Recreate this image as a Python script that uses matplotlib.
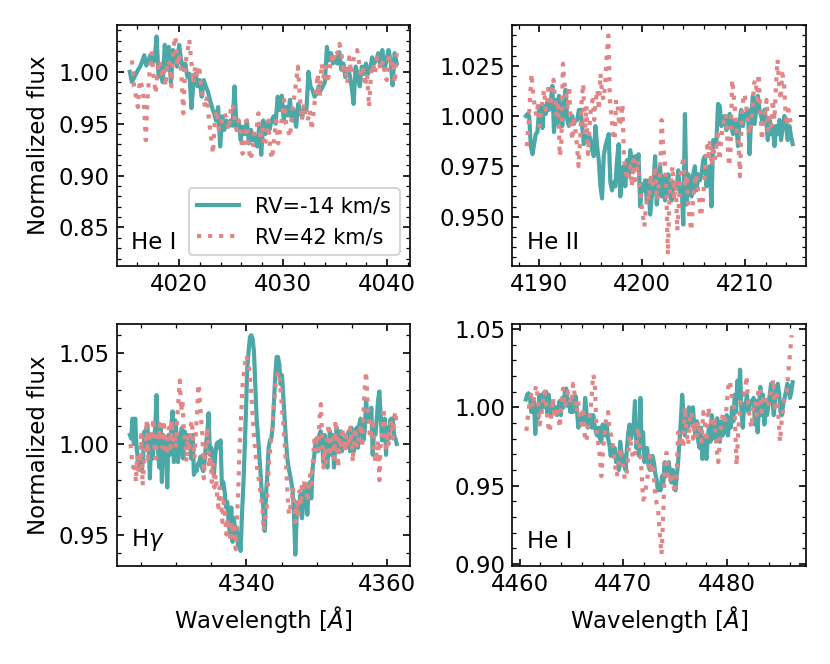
import numpy as np
import matplotlib
matplotlib.use("Agg")
import matplotlib.pyplot as plt
from matplotlib.ticker import MultipleLocator

# ---------------- data ----------------
# He I 4026
hei1_rv1_range = (4015.3, 4040.9)
hei1_rv1 = [1.000,0.990,0.994,0.998,1.002,1.005,1.010,1.016,1.006,1.011,1.016,1.008,1.011,1.034,0.995,1.005,0.990,1.026,1.002,1.024,0.989,1.021,1.014,1.005,1.026,1.011,1.002,1.008,0.995,0.998,0.965,0.990,0.998,0.986,0.992,0.976,0.992,0.986,0.981,0.973,0.966,0.960,0.953,0.966,0.928,0.957,0.944,0.953,0.947,0.953,0.948,0.986,0.944,0.953,0.934,0.947,0.940,0.953,0.931,0.944,0.934,0.937,0.928,0.947,0.920,0.953,0.940,0.950,0.944,0.953,0.957,0.950,0.976,0.963,0.977,0.953,0.966,0.958,0.973,0.953,0.963,0.947,0.969,0.960,0.957,0.966,0.963,1.000,0.986,0.982,0.976,0.979,0.986,0.982,0.986,0.990,1.024,1.011,1.018,1.008,1.014,1.008,1.019,1.002,1.008,0.995,1.003,0.998,0.986,0.969,1.005,0.998,0.986,1.005,0.998,1.008,0.998,1.002,1.014,1.008,1.011,1.018,1.008,1.021,1.002,1.011,1.021,1.011,0.987,1.018,1.008]
hei1_rv2_range = (4015.5, 4040.9)
hei1_rv2 = [1.011,0.986,0.976,0.966,0.992,0.986,0.973,0.934,0.979,1.002,1.018,0.995,0.979,1.002,1.011,0.998,1.005,0.986,1.011,1.008,0.986,1.024,1.034,1.005,1.018,0.998,0.960,1.008,1.018,1.031,1.011,0.989,1.005,0.994,1.006,0.986,0.976,0.966,0.976,0.953,0.937,0.921,0.953,0.963,0.944,0.947,0.957,0.960,0.953,0.944,0.963,0.969,0.953,0.944,0.953,0.944,0.921,0.934,0.953,0.928,0.915,0.924,0.944,0.944,0.960,0.934,0.947,0.928,0.937,0.953,0.924,0.916,0.937,0.953,0.931,0.944,0.957,0.973,0.950,0.944,0.937,0.960,0.974,0.989,1.005,0.976,0.953,0.969,0.957,0.953,0.963,0.944,0.963,0.979,0.998,0.976,1.008,0.995,1.005,0.989,1.002,1.014,1.008,1.021,1.018,1.027,1.018,0.998,1.005,0.989,1.014,0.998,1.011,1.018,1.021,1.008,0.995,1.002,0.986,0.998,0.966,0.998,1.008,0.998,1.014,1.008,1.002,1.011,0.995,0.992,1.018,1.005,1.011,0.989,1.018]

# He II 4200
heii_rv1_range = (4188.7, 4214.6)
heii_rv1 = [1.000,1.001,1.000,0.985,0.981,0.986,0.991,0.992,1.003,1.005,0.994,1.005,1.001,1.007,1.003,1.006,1.015,0.992,1.008,0.996,1.010,1.001,0.995,1.007,1.013,0.998,0.995,0.998,1.000,0.996,0.998,0.998,1.003,1.003,0.995,0.986,0.990,0.988,0.991,0.988,0.983,0.980,0.995,0.985,0.978,0.965,0.959,0.980,0.985,0.988,0.991,0.967,0.963,0.967,0.965,0.978,0.986,0.960,0.970,0.975,0.965,0.978,0.970,0.983,0.978,0.973,0.980,0.975,0.981,0.955,0.966,0.963,0.968,0.958,0.968,0.951,0.960,0.966,0.980,0.956,0.965,0.975,0.960,0.970,0.958,0.965,0.971,0.961,0.958,0.967,0.966,0.965,0.973,0.961,0.965,0.946,1.001,0.956,0.971,0.968,0.960,0.971,0.975,0.963,0.971,0.968,0.971,0.978,0.980,0.965,0.971,0.975,0.955,0.988,0.986,0.988,1.006,1.005,0.995,0.998,1.000,0.993,0.998,1.001,0.995,0.991,0.998,0.995,0.985,0.998,1.003,0.995,1.001,1.000,1.003,0.981,1.000,1.010,0.996,1.003,1.010,1.003,1.000,0.996,1.003,0.998,0.988,0.998,0.991,0.995,0.985,0.995,0.991,0.998,0.988,0.995,1.000,0.995,0.988,0.995,0.990,0.986]
heii_rv2_range = (4188.8, 4214.5)
heii_rv2 = [0.985,0.995,1.008,1.021,1.011,1.005,1.000,1.005,0.995,1.001,1.008,1.013,1.003,1.008,1.016,1.005,1.013,1.018,1.008,1.000,1.005,0.980,0.986,1.026,1.016,1.013,1.003,1.015,0.995,0.988,1.000,0.993,0.985,0.975,0.988,1.008,1.016,0.991,1.005,0.981,0.995,1.005,1.008,0.998,1.008,1.013,1.003,1.021,1.011,1.008,1.016,1.031,1.040,1.008,1.000,0.991,0.988,1.008,1.005,0.995,0.998,1.006,0.978,0.975,0.968,0.971,0.975,0.965,0.978,0.968,0.971,0.978,0.966,0.958,0.951,0.945,0.955,0.961,0.958,0.971,0.965,0.968,0.975,0.958,0.965,0.971,0.998,0.985,0.978,0.965,0.931,0.960,0.968,0.975,0.958,0.968,0.943,0.955,0.971,0.975,0.980,0.965,0.971,0.956,0.948,0.943,0.958,0.965,0.971,0.965,0.958,0.950,0.955,0.965,0.975,0.985,0.980,0.988,0.975,0.985,0.978,0.985,0.991,0.978,0.988,0.995,0.998,1.001,0.988,0.975,0.983,1.018,1.011,1.001,0.991,0.988,0.970,0.995,1.008,1.011,1.005,0.998,0.991,0.995,1.003,1.016,1.018,1.008,1.021,1.003,0.988,0.995,1.001,1.008,0.993,1.000,0.995,1.008,0.998,1.015,1.028,1.016,1.008,1.021,1.018,1.003,0.995,1.003,0.998,0.996]

# H gamma
hg_rv1_range = (4323.4, 4361.4)
hg_rv1 = [1.005,1.003,1.014,1.000,1.014,0.998,0.992,0.987,0.990,0.985,0.994,1.007,1.000,1.011,1.002,0.981,1.005,0.992,1.003,1.009,1.027,0.998,0.987,1.009,0.979,1.005,0.994,1.002,0.976,1.005,0.994,1.009,1.018,0.990,1.013,1.005,0.990,0.996,1.005,1.009,0.992,1.007,1.002,1.005,0.998,1.003,0.992,1.005,0.983,0.987,0.985,0.989,0.990,0.993,0.987,0.985,0.990,1.000,1.005,1.017,0.994,0.998,0.992,0.983,0.994,1.000,1.001,0.998,1.002,0.976,0.979,0.974,0.965,0.968,0.957,0.950,0.965,0.946,0.959,0.950,0.954,0.944,0.950,0.941,0.961,0.976,0.996,1.018,1.042,1.051,1.059,1.060,1.058,1.051,1.033,1.014,1.005,0.994,0.983,0.972,0.965,0.952,0.972,0.983,0.998,1.002,1.003,1.009,1.024,1.038,1.048,1.048,1.044,1.033,1.038,1.026,1.014,1.002,0.992,0.987,0.983,0.979,0.974,0.961,0.939,0.959,0.968,0.965,0.972,0.959,0.968,0.976,0.972,0.961,0.976,0.979,0.970,0.987,0.992,1.000,1.003,0.996,1.005,1.007,1.002,0.990,1.005,0.996,0.987,1.000,1.007,0.994,1.005,0.987,1.000,1.009,0.998,1.002,1.007,0.996,1.003,1.000,0.998,1.003,1.007,0.996,1.009,1.002,0.996,1.005,1.009,0.998,1.011,1.014,1.011,1.002,1.007,1.024,1.016,1.013,1.016,1.020,0.994,1.007,1.005,1.013,1.024,1.029,1.016,1.002,1.009,1.014,0.994,1.009,1.003,1.013,1.014,1.014,1.005,1.003,1.000]
hg_rv2_range = (4323.5, 4361.4)
hg_rv2 = [1.000,0.992,0.987,0.990,0.979,0.994,0.983,0.992,1.005,0.977,0.987,0.998,1.013,0.992,1.003,1.007,1.002,1.014,0.998,0.992,1.007,1.002,1.011,1.005,0.998,1.013,1.002,0.994,1.005,1.009,0.998,1.013,1.002,1.005,0.998,1.014,1.024,1.035,1.018,1.024,1.007,1.002,0.990,1.005,0.998,1.009,1.013,1.002,0.992,1.005,1.018,1.033,1.024,1.014,1.005,0.981,0.992,1.002,1.009,0.987,0.994,0.979,0.990,0.976,0.983,0.972,0.965,0.976,0.968,0.957,0.968,0.961,0.950,0.959,0.954,0.946,0.957,0.950,0.954,0.942,0.959,0.976,1.000,1.014,1.031,1.038,1.044,1.049,1.046,1.042,1.033,1.024,1.013,1.002,0.994,0.987,0.983,0.976,0.972,0.965,0.952,0.959,0.961,0.976,0.990,0.998,1.005,1.014,1.024,1.033,1.037,1.040,1.037,1.027,1.018,1.009,0.998,0.987,0.972,0.961,0.965,0.968,0.976,0.968,0.957,0.968,0.961,0.974,0.966,0.979,0.974,0.981,0.976,0.968,0.979,0.983,0.978,0.990,1.002,0.998,1.005,0.994,1.014,1.022,1.002,0.987,0.998,0.990,1.005,1.011,0.996,1.000,1.003,0.992,1.013,1.003,0.987,1.002,0.998,1.009,1.003,0.996,1.005,1.000,0.998,1.009,1.002,0.990,1.005,1.009,0.998,1.002,1.005,1.011,0.998,1.018,1.031,1.040,1.024,1.013,1.003,1.009,1.014,0.998,0.990,0.996,1.002,0.980,1.002,1.005,1.020,1.009,0.998,1.005,1.000,1.009,1.013,1.003,1.014,1.018,1.009]

# He I 4471
hei2_rv1_range = (4460.6, 4486.3)
hei2_rv1 = [1.005,1.008,1.009,1.007,0.997,1.004,1.004,0.983,1.000,0.993,1.008,0.997,1.004,1.009,1.000,1.010,0.995,1.008,0.995,1.000,1.003,0.997,1.000,0.995,0.999,1.004,0.995,1.006,1.000,1.010,1.012,1.001,1.004,0.997,1.006,0.997,1.002,1.007,0.997,0.987,0.995,0.989,0.991,0.989,1.006,0.997,0.987,0.991,0.995,0.987,0.995,0.989,0.984,0.982,0.987,0.980,0.978,0.989,0.984,0.982,0.989,0.980,0.976,0.969,0.976,0.969,0.974,0.965,0.969,0.960,0.978,0.971,0.965,0.969,0.960,0.974,0.984,0.989,0.980,0.984,0.989,1.004,0.974,0.982,0.969,1.006,0.974,0.984,0.965,0.969,0.974,0.963,0.960,0.967,0.969,0.965,0.958,0.954,0.947,0.950,0.947,0.956,0.952,0.965,0.956,0.960,0.965,0.958,0.952,0.960,0.954,0.947,0.956,0.965,0.978,0.991,1.008,0.997,0.982,0.993,0.987,1.000,0.995,0.989,1.000,0.987,0.982,0.991,0.978,0.974,0.987,0.967,0.980,0.978,0.967,0.982,0.987,0.978,0.995,0.987,0.980,0.982,0.993,0.982,0.978,0.991,0.982,0.989,0.984,0.995,0.982,0.993,0.987,1.000,0.991,1.008,0.997,1.017,1.006,1.024,0.997,0.987,1.002,1.000,1.008,0.997,1.002,1.004,1.002,1.006,0.989,1.004,0.984,1.000,1.013,0.995,1.008,0.989,1.004,0.995,1.002,1.008,1.015,1.004,0.995,1.006,1.013,1.015,1.008,0.997,0.995,1.002,1.006,1.010,1.015,1.013,1.006,1.010,1.016]
hei2_rv2_range = (4460.65, 4486.2)
hei2_rv2 = [0.985,0.995,1.004,1.008,1.000,1.010,1.014,1.004,0.989,0.995,1.004,1.010,1.000,0.989,0.984,0.995,1.006,0.993,1.000,0.997,0.987,1.004,1.012,1.000,1.004,1.010,1.006,1.002,1.015,1.008,0.997,1.004,0.995,0.989,1.000,0.982,0.978,0.989,0.995,1.004,1.021,1.017,0.987,0.978,0.969,0.956,0.974,0.984,0.995,0.997,0.984,0.982,0.974,0.965,0.956,0.960,0.974,0.969,0.963,0.954,0.956,0.969,0.982,0.974,0.967,0.969,0.978,0.987,0.976,0.960,0.941,0.943,0.952,0.958,0.969,0.960,0.963,0.947,0.939,0.934,0.919,0.906,0.930,0.963,0.971,0.956,0.952,0.958,0.952,0.945,0.956,0.984,0.978,0.982,0.974,1.000,0.984,0.976,0.993,0.997,0.980,0.991,0.982,0.991,0.984,0.978,0.997,0.989,0.978,1.000,0.995,0.989,0.987,0.991,0.974,0.965,0.978,0.991,0.997,0.989,1.000,1.013,1.017,1.008,1.004,0.993,0.963,0.984,1.000,1.008,1.008,1.010,1.020,1.002,0.991,0.987,1.000,1.004,0.995,1.010,1.013,0.997,1.006,1.008,1.002,1.000,1.008,1.010,1.018,1.000,1.008,0.995,0.978,0.991,1.000,1.008,1.010,1.021,1.034,1.046]

labels = ["RV=-14 km/s", "RV=42 km/s"]
line_names = ["He I", "He II", r"H$\gamma$", "He I"]
xlabel = r"Wavelength [$\AA$]"
ylabel = "Normalized flux"

panels = [
    (hei1_rv1_range, hei1_rv1, hei1_rv2_range, hei1_rv2),
    (heii_rv1_range, heii_rv1, heii_rv2_range, heii_rv2),
    (hg_rv1_range, hg_rv1, hg_rv2_range, hg_rv2),
    (hei2_rv1_range, hei2_rv1, hei2_rv2_range, hei2_rv2),
]

# ---------------- style ----------------
c_rv1 = "#4ba8a6"
c_rv2 = "#e08686"
fs = 11

fig, axes = plt.subplots(2, 2, figsize=(830/150, 664/150), dpi=150)
fig.subplots_adjust(left=0.1404, right=0.9711, top=0.9631, bottom=0.1483,
                    wspace=0.349, hspace=0.2425)

x_major = [10, 10, 20, 10]
x_minor = [2, 2, 5, 2]
y_major = [0.05, 0.025, 0.05, 0.05]
y_minor = [0.01, 0.005, 0.01, 0.01]

for i, ax in enumerate(axes.flat):
    r1, f1, r2, f2 = panels[i]
    w1 = np.linspace(r1[0], r1[1], len(f1))
    w2 = np.linspace(r2[0], r2[1], len(f2))
    ax.plot(w1, f1, color=c_rv1, lw=2.0, ls="-", label=labels[0])
    ax.plot(w2, f2, color=c_rv2, lw=2.0, ls=":", label=labels[1])
    ax.text(0.05, 0.05, line_names[i], transform=ax.transAxes,
            fontsize=fs, ha="left", va="bottom")
    ax.xaxis.set_major_locator(MultipleLocator(x_major[i]))
    ax.xaxis.set_minor_locator(MultipleLocator(x_minor[i]))
    ax.yaxis.set_major_locator(MultipleLocator(y_major[i]))
    ax.yaxis.set_minor_locator(MultipleLocator(y_minor[i]))
    ax.tick_params(which="both", direction="in", top=True, right=True,
                   labelsize=fs)

axes[0, 0].set_ylim(0.813, 1.0456)
axes[0, 0].legend(loc="lower right", fontsize=10)
axes[0, 0].set_ylabel(ylabel, fontsize=fs)
axes[1, 0].set_ylabel(ylabel, fontsize=fs)
axes[1, 0].set_xlabel(xlabel, fontsize=fs)
axes[1, 1].set_xlabel(xlabel, fontsize=fs)

fig.savefig("out.png", dpi=150)
